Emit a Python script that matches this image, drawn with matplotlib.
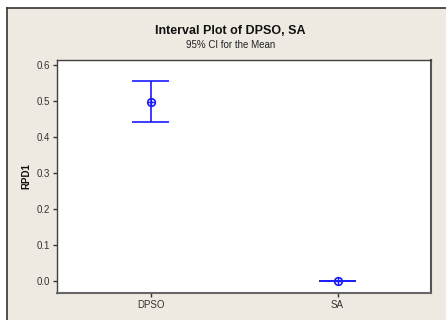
import matplotlib
matplotlib.use("Agg")
import matplotlib.pyplot as plt
from matplotlib.patches import Rectangle
from matplotlib.lines import Line2D

plt.rcParams['font.family'] = ['Liberation Sans', 'DejaVu Sans']

categories = ["DPSO", "SA"]
means = [0.497, 0.0]
lower = [0.441, 0.0]
upper = [0.556, 0.0]
yticks = [0.0, 0.1, 0.2, 0.3, 0.4, 0.5, 0.6]

bg = '#EEEAE1'
blue = '#1A1AFF'

fig = plt.figure(figsize=(4.46, 3.2), dpi=100)
fig.patch.set_facecolor('white')
W, H = 446, 320
fig.patches.append(Rectangle((6.5 / W, 0), 1, (H - 8) / H, transform=fig.transFigure,
                             facecolor=bg, edgecolor='none', zorder=-5))
fig.lines.append(Line2D([6.5 / W, 1], [(H - 8) / H] * 2, transform=fig.transFigure,
                        color='#333333', lw=1.2, zorder=-4))
fig.lines.append(Line2D([6.5 / W] * 2, [0, (H - 8) / H], transform=fig.transFigure,
                        color='#333333', lw=1.2, zorder=-4))

ax = fig.add_axes([57 / W, 27.3 / H, (431 - 57) / W, (292.7 - 60) / H])
ax.set_zorder(5)
ax.set_facecolor('white')

x = list(range(1, len(categories) + 1))
for xi, m, lo, hi in zip(x, means, lower, upper):
    ax.vlines(xi, lo, hi, color=blue, lw=1.2)
    ax.hlines([lo, hi], xi - 0.1, xi + 0.1, color=blue, lw=1.2)
ax.plot(x, means, linestyle='none', marker='o', markersize=5.5, markerfacecolor='none',
        markeredgecolor=blue, markeredgewidth=1.2)
ax.plot(x, means, linestyle='none', marker='+', markersize=5.5, color=blue, markeredgewidth=1.0)

ax.set_xlim(0.5, 2.5)
ax.set_ylim(-0.0325, 0.614)
ax.set_xticks(x)
ax.set_xticklabels(categories)
ax.set_yticks(yticks)
ax.set_yticklabels([f"{v:.1f}" for v in yticks])
ax.tick_params(direction='out', length=3, width=1, labelsize=7, colors='#333333',
               labelcolor='#333333', pad=2)
for s in ax.spines.values():
    s.set_color('#404040')
    s.set_linewidth(1.0)
ax.spines['bottom'].set_color('#666666')
ax.spines['right'].set_color('#555555')
ax.spines['bottom'].set_linewidth(1.5)
ax.spines['right'].set_linewidth(1.5)

ax.set_ylabel("RPD1", fontsize=7, fontweight='bold', labelpad=4, color='#111111')

fig.text(230.5 / W, 1 - 31.5 / H, "Interval Plot of DPSO, SA", ha='center', va='center',
         fontsize=9, fontweight='bold', color='#111111')
fig.text(230.5 / W, 1 - 44.5 / H, "95% CI for the Mean", ha='center', va='center',
         fontsize=7, color='#222222')

fig.savefig("out.png", dpi=100, facecolor=fig.get_facecolor())
